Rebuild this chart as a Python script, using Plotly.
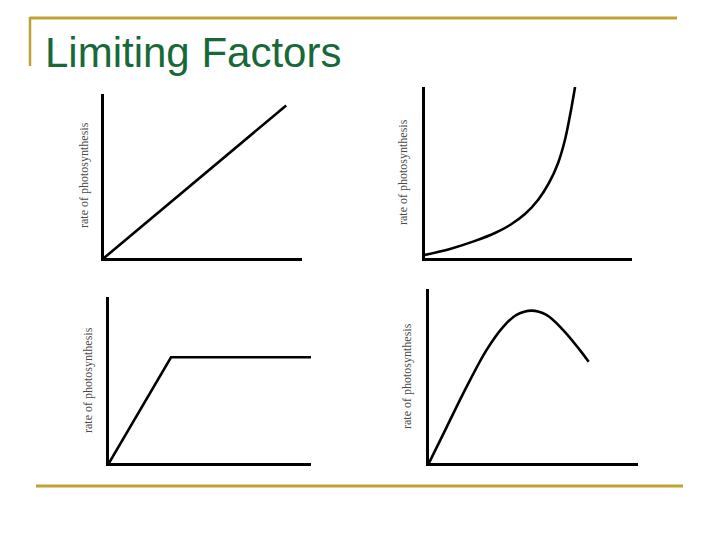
import plotly.graph_objects as go

# ---- data (axis units 0..10 in each panel) ----
p1_x = [0, 9.2]
p1_y = [0, 9.3]

p2_x = [0, 1.21, 2.42, 3.38, 4.11, 4.83, 5.46, 5.99, 6.43, 6.76, 7.0, 7.25]
p2_y = [0.18, 0.53, 1.0, 1.46, 1.93, 2.57, 3.39, 4.39, 5.56, 6.9, 8.3, 10.0]

p3_x = [0, 3.07, 10]
p3_y = [0, 6.37, 6.37]

p4_x = [0, 0.84, 1.79, 2.75, 3.55, 4.19, 4.90, 5.62, 6.42, 7.22, 7.64]
p4_y = [0, 2.05, 4.36, 6.49, 7.83, 8.51, 8.76, 8.51, 7.64, 6.49, 5.82]

title_text = "Limiting Factors"
ylabel = "rate of photosynthesis"

W, H = 720, 540

def px(x):
    return x / W

def py(y):
    return 1 - y / H

# panel boxes in pixels: (left, right, top, bottom), label x, label center y
panels = [
    (p1_x, p1_y, (104, 302, 94, 258), 84, 175),
    (p2_x, p2_y, (425, 632, 87, 258), 403, 172),
    (p3_x, p3_y, (109, 311, 297, 463), 88, 380),
    (p4_x, p4_y, (429, 638, 289, 463), 407, 376),
]

fig = go.Figure()
annotations = []
for i, (xs, ys, (l, r, t, b), lx, ly) in enumerate(panels, start=1):
    sfx = "" if i == 1 else str(i)
    fig.add_trace(go.Scatter(
        x=xs, y=ys, mode="lines",
        line=dict(color="black", width=2.6, shape="spline" if i in (2, 4) else "linear"),
        xaxis="x" + sfx, yaxis="y" + sfx, hoverinfo="skip", showlegend=False,
    ))
    axcommon = dict(range=[0, 10], showline=True, linewidth=3, linecolor="black",
                    showgrid=False, zeroline=False, showticklabels=False, ticks="",
                    fixedrange=True)
    fig.layout["xaxis" + sfx] = dict(domain=[px(l), px(r)], anchor="y" + sfx, **axcommon)
    fig.layout["yaxis" + sfx] = dict(domain=[py(b), py(t)], anchor="x" + sfx, **axcommon)
    annotations.append(dict(
        text=ylabel, x=px(lx), y=py(ly), xref="paper", yref="paper",
        textangle=-90, showarrow=False, xanchor="center", yanchor="middle",
        font=dict(family="Liberation Serif, Times New Roman, serif", size=12, color="#4a4a4a"),
    ))

annotations.append(dict(
    text=title_text, x=px(43), y=py(52), xref="paper", yref="paper",
    showarrow=False, xanchor="left", yanchor="middle",
    font=dict(family="Liberation Sans, Arial, sans-serif", size=42, color="#17693a"),
))

gold = "#bfa134"
shapes = [
    dict(type="line", xref="paper", yref="paper", x0=px(30), x1=px(677), y0=py(18), y1=py(18),
         line=dict(color=gold, width=3)),
    dict(type="line", xref="paper", yref="paper", x0=px(30), x1=px(30), y0=py(17), y1=py(66),
         line=dict(color=gold, width=2.5)),
    dict(type="line", xref="paper", yref="paper", x0=px(36), x1=px(683), y0=py(486), y1=py(486),
         line=dict(color=gold, width=3)),
]

fig.update_layout(
    width=W, height=H, margin=dict(l=0, r=0, t=0, b=0),
    paper_bgcolor="white", plot_bgcolor="white",
    annotations=annotations, shapes=shapes, hovermode=False, showlegend=False,
)

fig.write_html("out.html", config={"displayModeBar": False},
               post_script="document.body.style.margin='0';document.body.style.overflow='hidden';")
